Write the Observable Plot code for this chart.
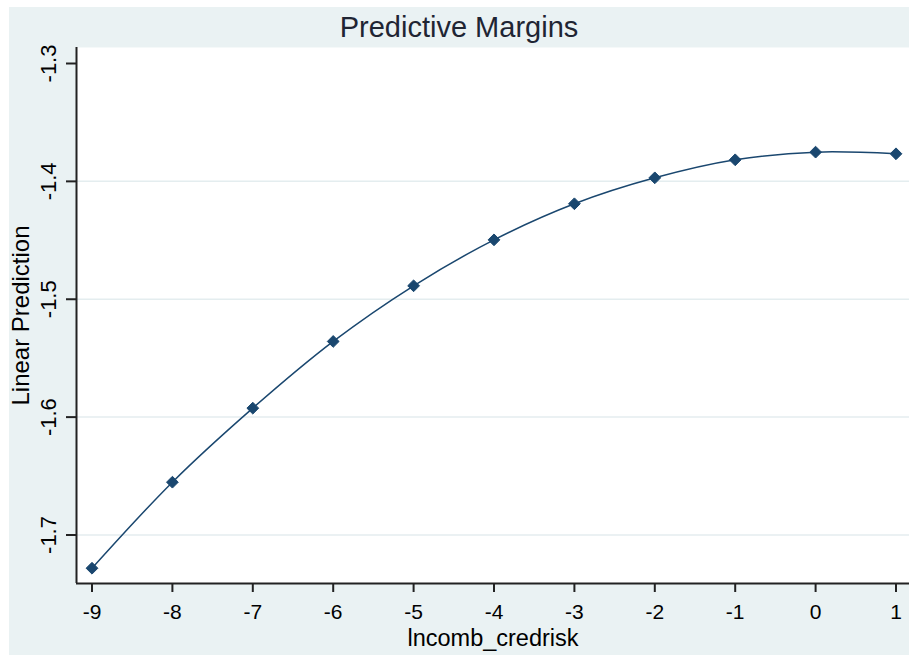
<!DOCTYPE html>
<html>
<head>
<meta charset="utf-8">
<script src="https://cdn.jsdelivr.net/npm/d3@7"></script>
<script src="https://cdn.jsdelivr.net/npm/@observablehq/plot@0.6"></script>
<style>
  body { margin: 0; background: #ffffff; }
  #wrap { position: relative; width: 909px; height: 655px; overflow: hidden; }
  #panel { position: absolute; left: 9px; top: 7px; width: 900px; height: 648px; background: #EAF2F3; }
  #chart { position: absolute; left: 0; top: 0; }
  #title { position: absolute; left: 9px; top: 13px; width: 900px; text-align: center;
           font-family: "Liberation Sans", Arial, sans-serif; font-size: 29px; line-height: 29px; color: #1f2533; }
</style>
</head>
<body>
<div id="wrap">
  <div id="panel"></div>
  <div id="chart"></div>
  <div id="title">Predictive Margins</div>
</div>
<script>
// Data
const xValues = [-9, -8, -7, -6, -5, -4, -3, -2, -1, 0, 1];
const margins = [-1.7282, -1.6552, -1.5924, -1.5358, -1.4886, -1.4496, -1.4190, -1.3970, -1.3817, -1.3752, -1.3766];
const xTicks = [-9, -8, -7, -6, -5, -4, -3, -2, -1, 0, 1];
const yTicks = [-1.7, -1.6, -1.5, -1.4, -1.3];
const gridTicks = [-1.7, -1.6, -1.5, -1.4];
const xLabel = "lncomb_credrisk";
const yLabel = "Linear Prediction";

const data = xValues.map((x, i) => ({x, y: margins[i]}));
const xDomain = [-9.1928, 1.1679];
const yDomain = [-1.74115, -1.28643];
const navy = "#1a476f";
const axisColor = "#222222";
const font = "Liberation Sans, Arial, sans-serif";

const chart = Plot.plot({
  width: 909,
  height: 655,
  marginLeft: 76,
  marginRight: 0,
  marginTop: 47,
  marginBottom: 72,
  style: {background: "transparent", fontFamily: font, color: "#000", overflow: "visible"},
  x: {type: "linear", domain: xDomain, axis: null},
  y: {type: "linear", domain: yDomain, axis: null},
  marks: [
    Plot.frame({fill: "white", stroke: null}),
    Plot.ruleY(gridTicks, {stroke: "#E4EDEF", strokeWidth: 1.5}),
    Plot.line(data, {x: "x", y: "y", stroke: navy, strokeWidth: 1.5, curve: "catmull-rom"}),
    Plot.dot(data, {x: "x", y: "y", symbol: "diamond2", r: 5.3, fill: navy, stroke: navy, strokeWidth: 1}),
    Plot.ruleX([xDomain[0]], {stroke: axisColor, strokeWidth: 2}),
    Plot.ruleY([yDomain[0]], {stroke: axisColor, strokeWidth: 2}),
    Plot.axisX({ticks: xTicks, tickSize: 9, tickPadding: 12, tickFormat: d => String(d),
      fontSize: 21, stroke: axisColor, strokeWidth: 2, label: null, fill: "#000"}),
    Plot.axisY({ticks: yTicks, tickSize: 10, tickFormat: () => "", label: null, stroke: axisColor, strokeWidth: 2}),
    Plot.text(yTicks, {x: xDomain[0], y: d => d, text: d => String(d), rotate: -90, dx: -21,
      lineAnchor: "bottom", textAnchor: "middle", fontSize: 22, fill: "#000"}),
    Plot.text([xLabel], {frameAnchor: "bottom", dy: 62, lineAnchor: "bottom", fontSize: 23.5, fill: "#000"}),
    Plot.text([yLabel], {frameAnchor: "left", rotate: -90, dx: -48, lineAnchor: "bottom", textAnchor: "middle", fontSize: 24, fill: "#000"})
  ]
});
document.getElementById("chart").appendChild(chart);
</script>
</body>
</html>
